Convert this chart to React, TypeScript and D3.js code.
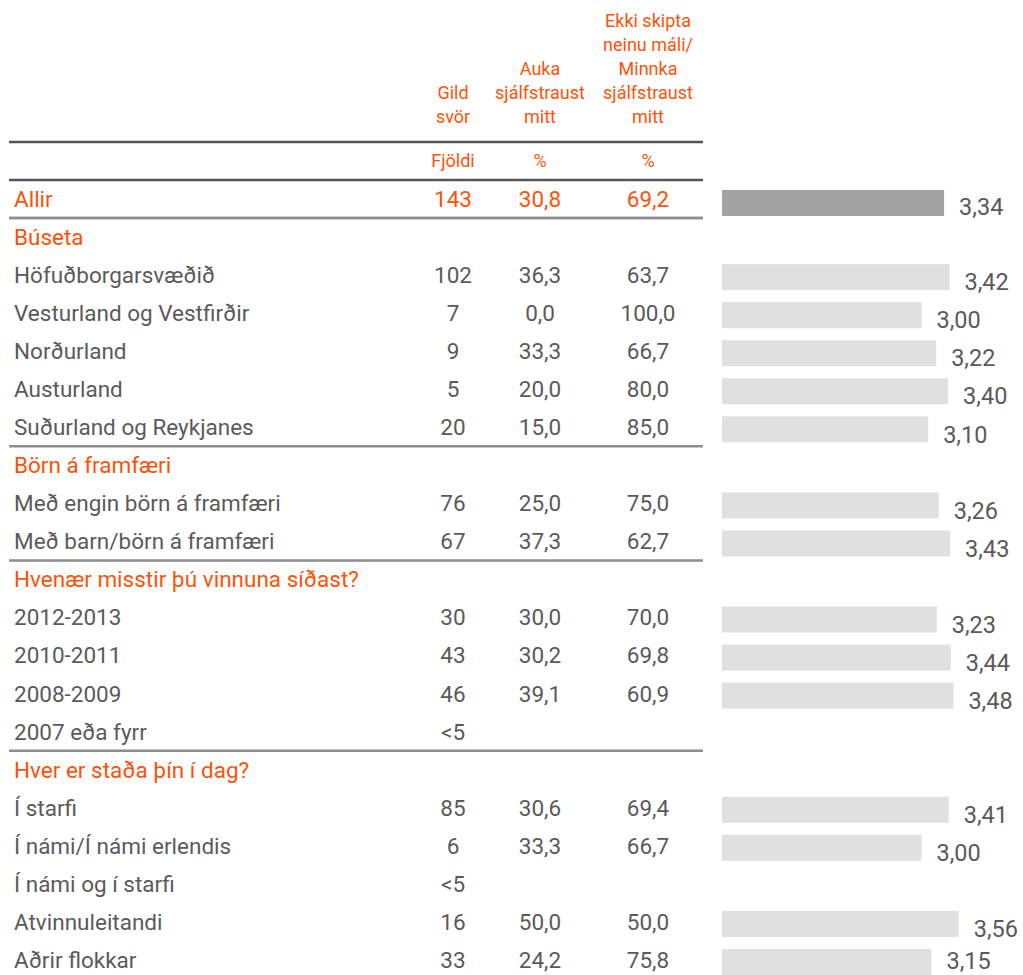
import React from "react";
import * as d3 from "d3";

const rowLabels = [
  "Allir",
  "Búseta",
  "Höfuðborgarsvæðið",
  "Vesturland og Vestfirðir",
  "Norðurland",
  "Austurland",
  "Suðurland og Reykjanes",
  "Börn á framfæri",
  "Með engin börn á framfæri",
  "Með barn/börn á framfæri",
  "Hvenær misstir þú vinnuna síðast?",
  "2012-2013",
  "2010-2011",
  "2008-2009",
  "2007 eða fyrr",
  "Hver er staða þín í dag?",
  "Í starfi",
  "Í námi/Í námi erlendis",
  "Í námi og í starfi",
  "Atvinnuleitandi",
  "Aðrir flokkar",
];
// row kinds: total, group header, item
const rowKinds = [
  "total", "group", "item", "item", "item", "item", "item",
  "group", "item", "item",
  "group", "item", "item", "item", "item",
  "group", "item", "item", "item", "item", "item",
];
const countValues: (string | null)[] = [
  "143", null, "102", "7", "9", "5", "20",
  null, "76", "67",
  null, "30", "43", "46", "<5",
  null, "85", "6", "<5", "16", "33",
];
const aukaValues: (number | null)[] = [
  30.8, null, 36.3, 0.0, 33.3, 20.0, 15.0,
  null, 25.0, 37.3,
  null, 30.0, 30.2, 39.1, null,
  null, 30.6, 33.3, null, 50.0, 24.2,
];
const ekkiValues: (number | null)[] = [
  69.2, null, 63.7, 100.0, 66.7, 80.0, 85.0,
  null, 75.0, 62.7,
  null, 70.0, 69.8, 60.9, null,
  null, 69.4, 66.7, null, 50.0, 75.8,
];
const meanValues: (number | null)[] = [
  3.34, null, 3.42, 3.0, 3.22, 3.4, 3.1,
  null, 3.26, 3.43,
  null, 3.23, 3.44, 3.48, null,
  null, 3.41, 3.0, null, 3.56, 3.15,
];
const headerCols = [
  { lines: ["Gild", "svör"], unit: "Fjöldi" },
  { lines: ["Auka", "sjálfstraust", "mitt"], unit: "%" },
  { lines: ["Ekki skipta", "neinu máli/", "Minnka", "sjálfstraust", "mitt"], unit: "%" },
];

const ORANGE = "#ff5208";
const GRAY_TEXT = "#5a5a5a";
const FONT = "Roboto, 'Open Sans', sans-serif";

export default function App() {
  const W = 1023;
  const H = 975;
  const y = d3.scaleLinear().domain([0, 20]).range([199, 960]);
  const colX = [453, 540, 648];
  const barX0 = 722;
  const xBar = d3.scaleLinear().domain([0, 5]).range([0, 332.5]);
  const barH = 26;
  const fmt = (v: number) => d3.format(".1f")(v).replace(".", ",");
  const fmt2 = (v: number) => d3.format(".2f")(v).replace(".", ",");
  const headerBottom = y(-1.5) - 25;

  const sepAfter = rowKinds
    .map((k, i) => (i > 0 && k === "group" ? i - 0.5 : null))
    .filter((v) => v !== null) as number[];
  sepAfter.unshift(0.5);

  return (
    <svg
      width={W}
      height={H}
      style={{ position: "absolute", left: 0, top: 0, display: "block", background: "#fff" }}
      fontFamily={FONT}
    >
      {/* header */}
      {headerCols.map((c, ci) => (
        <g key={"h" + ci}>
          {c.lines.map((ln, li) => (
            <text
              key={li}
              x={colX[ci]}
              y={headerBottom - 24 * (c.lines.length - 1 - li)}
              dy="0.35em"
              textAnchor="middle"
              fontSize={18}
              fill={ORANGE}
            >
              {ln}
            </text>
          ))}
          <text x={colX[ci]} y={y(-1)} dy="0.35em" textAnchor="middle" fontSize={18} fill={ORANGE}>
            {c.unit}
          </text>
        </g>
      ))}
      {/* header rules */}
      <line x1={9} x2={703} y1={y(-1.5)} y2={y(-1.5)} stroke="#555" strokeWidth={2.5} />
      <line x1={9} x2={703} y1={y(-0.5)} y2={y(-0.5)} stroke="#555" strokeWidth={2.5} />
      {sepAfter.map((s, i) => (
        <line key={"s" + i} x1={9} x2={703} y1={y(s)} y2={y(s)} stroke="#8e8e8e" strokeWidth={2.5} />
      ))}
      {/* rows */}
      {rowLabels.map((lab, i) => {
        const kind = rowKinds[i];
        const cy = y(i);
        const color = kind === "item" ? GRAY_TEXT : ORANGE;
        const m = meanValues[i];
        return (
          <g key={"r" + i}>
            <text x={14} y={cy} dy="0.35em" fontSize={22.5} fill={color}>
              {lab}
            </text>
            {countValues[i] !== null && (
              <text x={colX[0]} y={cy} dy="0.35em" textAnchor="middle" fontSize={22.5} fill={color}>
                {countValues[i]}
              </text>
            )}
            {aukaValues[i] !== null && (
              <text x={colX[1]} y={cy} dy="0.35em" textAnchor="middle" fontSize={22.5} fill={color}>
                {fmt(aukaValues[i] as number)}
              </text>
            )}
            {ekkiValues[i] !== null && (
              <text x={colX[2]} y={cy} dy="0.35em" textAnchor="middle" fontSize={22.5} fill={color}>
                {fmt(ekkiValues[i] as number)}
              </text>
            )}
            {m !== null && (
              <g>
                <rect
                  x={barX0}
                  y={cy + (kind === "total" ? 4 : 2) - barH / 2}
                  width={xBar(m)}
                  height={barH}
                  fill={kind === "total" ? "#a2a2a2" : "#e0e0e0"}
                />
                <text
                  x={barX0 + xBar(m) + 15}
                  y={Math.min(cy + (kind === "total" ? 8 : 7), 961)}
                  dy="0.35em"
                  fontSize={23.5}
                  fill={GRAY_TEXT}
                >
                  {fmt2(m)}
                </text>
              </g>
            )}
          </g>
        );
      })}
    </svg>
  );
}
